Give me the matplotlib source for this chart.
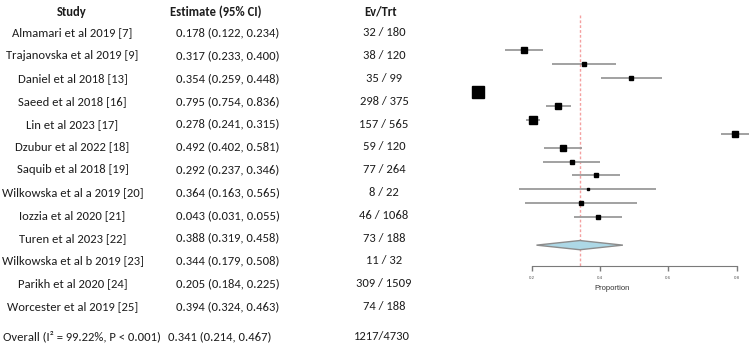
import matplotlib
matplotlib.use("Agg")
import matplotlib.pyplot as plt
import numpy as np
import logging


# Study data (table order, as printed on the left)
#--------------------------------------------------------------------------------

studies = [
    "Almamari et al 2019 [7]",
    "Trajanovska et al 2019 [9]",
    "Daniel et al 2018 [13]",
    "Saeed et al 2018 [16]",
    "Lin et al 2023 [17]",
    "Dzubur et al 2022 [18]",
    "Saquib et al 2018 [19]",
    "Wilkowska et al a 2019 [20]",
    "Iozzia et al 2020 [21]",
    "Turen et al 2023 [22]",
    "Wilkowska et al b 2019 [23]",
    "Parikh et al 2020 [24]",
    "Worcester et al 2019 [25]",
]

estimates = [0.178, 0.317, 0.354, 0.795, 0.278, 0.492, 0.292,
             0.364, 0.043, 0.388, 0.344, 0.205, 0.394]

ci_lower = [0.122, 0.233, 0.259, 0.754, 0.241, 0.402, 0.237,
            0.163, 0.031, 0.319, 0.179, 0.184, 0.324]

ci_upper = [0.234, 0.400, 0.448, 0.836, 0.315, 0.581, 0.346,
            0.565, 0.055, 0.458, 0.508, 0.225, 0.463]

events = [32, 38, 35, 298, 157, 59, 77, 8, 46, 73, 11, 309, 74]

totals = [180, 120, 99, 375, 565, 120, 264, 22, 1068, 188, 32, 1509, 188]

overall_label = "Overall (I\u00b2 = 99.22%, P < 0.001)"
overall_est = 0.341
overall_lower = 0.214
overall_upper = 0.467
overall_events = 1217
overall_total = 4730

axis_ticks = [0.2, 0.4, 0.6, 0.8]


TEXT_FONT = ["Carlito", "Liberation Sans Narrow", "Roboto Condensed",
             "DejaVu Sans Condensed", "Lato", "DejaVu Sans"]
AXIS_FONT = ["Liberation Sans", "DejaVu Sans"]
TEXT_COLOR = "#1c1c1c"

logging.getLogger("matplotlib.font_manager").setLevel(logging.ERROR)


fig = plt.figure(figsize=(7.5, 3.48), dpi=100)


# ----------------------------------------
# Left table
# ----------------------------------------

tab = fig.add_axes([0, 0, 470 / 750, 1])
tab.set_xlim(0, 470)
tab.set_ylim(13.82, -1.447)
tab.axis("off")

# scale the font so the first study name is about as wide as in the picture
probe = tab.text(0, 0, studies[0], fontsize=10, family=TEXT_FONT)
fig.canvas.draw()
probe_width = probe.get_window_extent().width
probe.remove()
fs = 10 * 121 / probe_width

header_row = -0.934
overall_row = 13.33

for x, label in [(72, "Study"), (216, "Estimate (95% CI)"), (381, "Ev/Trt")]:
    tab.text(x, header_row, label, ha="center", va="center",
             fontsize=fs, fontweight="bold", family=TEXT_FONT,
             color=TEXT_COLOR)

for row, name in enumerate(studies):

    tab.text(72.5, row, name, ha="center", va="center",
             fontsize=fs, family=TEXT_FONT, color=TEXT_COLOR)

    tab.text(228, row,
             f"{estimates[row]:.3f} ({ci_lower[row]:.3f}, {ci_upper[row]:.3f})",
             ha="center", va="center",
             fontsize=fs, family=TEXT_FONT, color=TEXT_COLOR)

    tab.text(384, row, f"{events[row]} / {totals[row]}",
             ha="center", va="center",
             fontsize=fs, family=TEXT_FONT, color=TEXT_COLOR)

tab.text(82, overall_row, overall_label, ha="center", va="center",
         fontsize=fs, family=TEXT_FONT, color=TEXT_COLOR)

tab.text(220, overall_row,
         f"{overall_est:.3f} ({overall_lower:.3f}, {overall_upper:.3f})",
         ha="center", va="center",
         fontsize=fs, family=TEXT_FONT, color=TEXT_COLOR)

tab.text(382, overall_row, f"{overall_events}/{overall_total}",
         ha="center", va="center",
         fontsize=fs, family=TEXT_FONT, color=TEXT_COLOR)


# ----------------------------------------
# Forest plot (rows sorted by study name)
# ----------------------------------------

ax = fig.add_axes([470 / 750, 0, 280 / 750, 1])
ax.set_xlim(0.01933, 0.8392)
ax.set_ylim(21.38, -3.587)

order = sorted(range(len(studies)), key=lambda i: studies[i])

est = np.array(estimates)
lo = np.array(ci_lower)
hi = np.array(ci_upper)

# inverse-variance weights -> square size
se = (hi - lo) / 3.92
weights = 1 / se ** 2
side_px = 11.5 * (weights / weights.max()) ** 0.25

diamond_row = 14
axis_row = 15.47

ax.vlines(overall_est, -2.5, axis_row, color="#f4a0a0",
          linestyle=(0, (2, 1.5)), linewidth=1, zorder=1)

for pos, i in enumerate(order):

    ax.hlines(pos, lo[i], hi[i], color="#9a9a9a", linewidth=1.3, zorder=2)

    ax.plot(est[i], pos, marker="s", color="black",
            markersize=side_px[i] * 0.72, zorder=3)

h = 0.33
ax.fill(
    [overall_lower, overall_est, overall_upper, overall_est],
    [diamond_row, diamond_row - h, diamond_row, diamond_row + h],
    facecolor="#add8e6", edgecolor="#8c8c8c", linewidth=1, zorder=2
)

for side in ["top", "right", "left"]:
    ax.spines[side].set_visible(False)

ax.spines["bottom"].set_position(("data", axis_row))
ax.spines["bottom"].set_bounds(axis_ticks[0], axis_ticks[-1])
ax.spines["bottom"].set_color("#7a7a7a")

ax.set_yticks([])
ax.set_xticks(axis_ticks)
ax.set_xticklabels([f"{t:.1f}" for t in axis_ticks],
                   fontsize=3.2, color="#555555", family=AXIS_FONT)
ax.tick_params(axis="x", direction="out", length=3.5, width=1,
               color="#7a7a7a", pad=4)

ax.text(0.434, 17.14, "Proportion", ha="center", va="center",
        fontsize=5.5, color="#333333", family=AXIS_FONT)

ax.patch.set_alpha(0)

fig.savefig("out.png", dpi=100)
